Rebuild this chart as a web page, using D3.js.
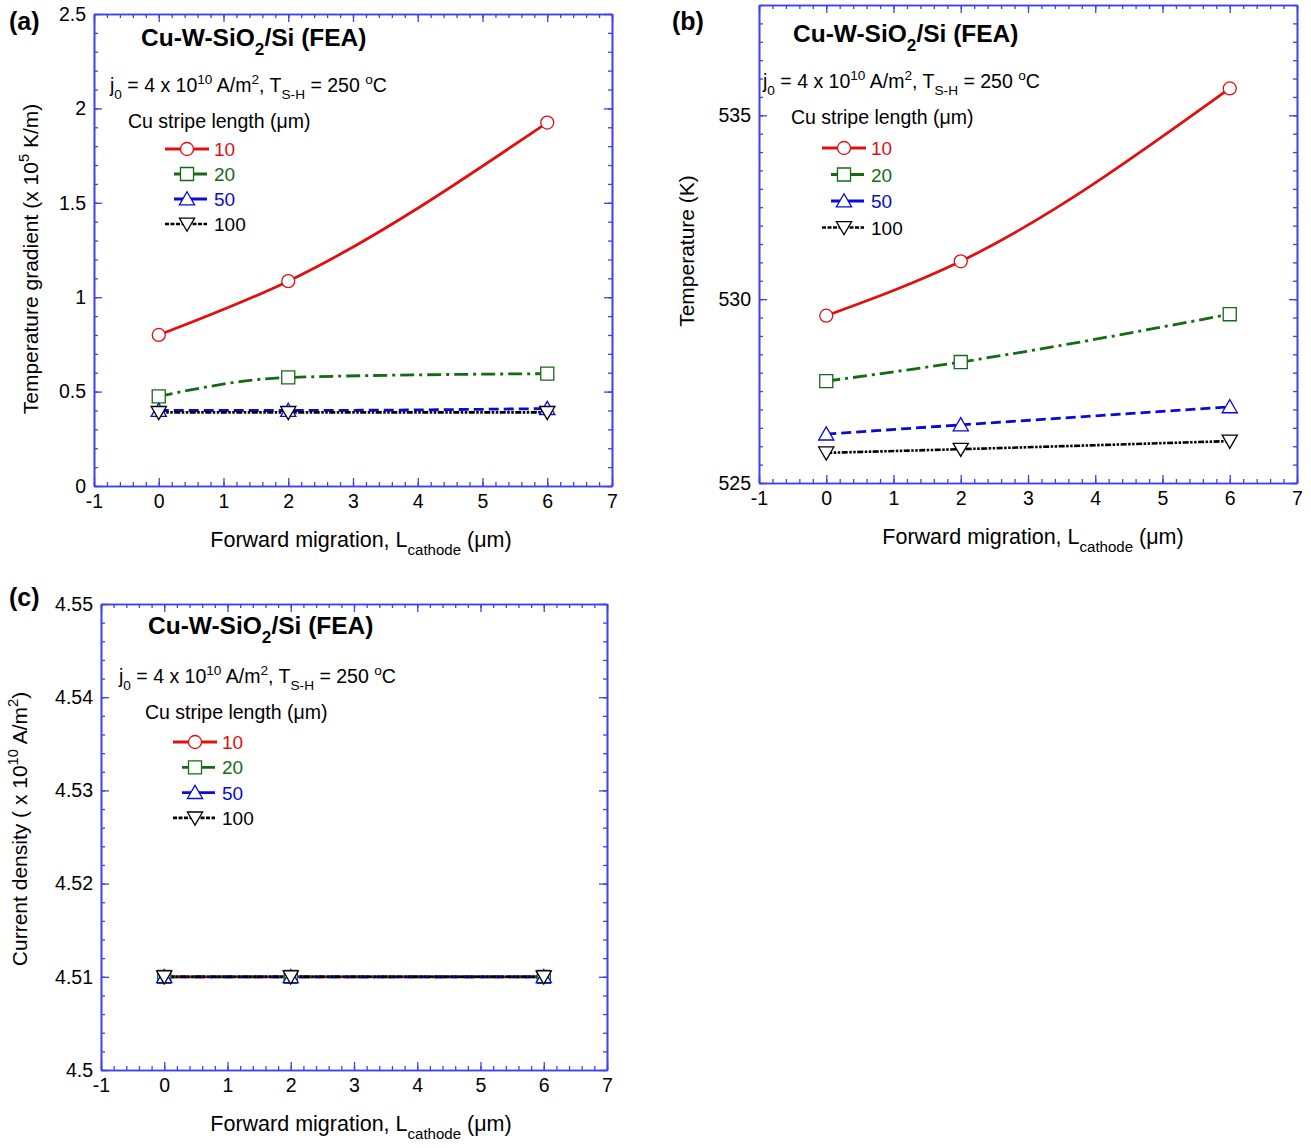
<!DOCTYPE html>
<html>
<head>
<meta charset="utf-8">
<script src="https://cdn.jsdelivr.net/npm/d3@7"></script>
<style>
body { margin: 0; background: #fff; }
text { font-family: "Liberation Sans", Arial, sans-serif; }
</style>
</head>
<body>
<div class="canvas"></div>
<script>
// data
const migration = [0, 2, 6];
const stripeLengths = ['10', '20', '50', '100'];

// (a) temperature gradient, x 10^5 K/m
const gradientVals = [
  [0.80, 1.085, 1.925],
  [0.475, 0.575, 0.595],
  [0.40, 0.40, 0.41],
  [0.39, 0.39, 0.39]
];
// (b) temperature, K
const temperatureVals = [
  [529.55, 531.03, 535.73],
  [527.77, 528.29, 529.59],
  [526.33, 526.58, 527.07],
  [525.82, 525.92, 526.14]
];
// (c) current density, x 10^10 A/m^2
const densityVals = [
  [4.51, 4.51, 4.51],
  [4.51, 4.51, 4.51],
  [4.51, 4.51, 4.51],
  [4.51, 4.51, 4.51]
];

const xTicks = [-1, 0, 1, 2, 3, 4, 5, 6, 7];
const gradientTicks = [0, 0.5, 1, 1.5, 2, 2.5];
const temperatureTicks = [525, 530, 535];
const densityTicks = [4.5, 4.51, 4.52, 4.53, 4.54, 4.55];

const styles = [
  {color: '#e01010', dash: null, width: 2.8, symbol: 'circle'},
  {color: '#156a15', dash: '14,5,3,5', width: 2.8, symbol: 'square'},
  {color: '#0a0ad8', dash: '10,5', width: 2.8, symbol: 'up'},
  {color: '#000000', dash: '6,1.5,2.5,1.5,2.5,1.5', width: 2.6, symbol: 'down'}
];
const axisColor = '#4040ec';

// plain hyphen for negatives, like the original
const fmt = d => String(+d.toFixed(4));

const svg = d3.select('.canvas')
  .append('svg')
  .attr('width', 1311)
  .attr('height', 1148);

// text with sub / superscripts: parts = [[text, 'sub'|'sup'|null], ...]
const richText = (sel, parts, size) => {
  let shift = 0;
  parts.forEach(([t, kind]) => {
    const target = kind === 'sub' ? size * 0.38 : kind === 'sup' ? -size * 0.42 : 0;
    sel.append('tspan')
      .attr('dy', target - shift)
      .attr('font-size', kind ? size * 0.7 : size)
      .text(t);
    shift = target;
  });
};

const marker = (g, type, cx, cy, color) => {
  if (type === 'circle') {
    g.append('circle').attr('cx', cx).attr('cy', cy).attr('r', 6.5)
      .attr('fill', '#fff').attr('stroke', color).attr('stroke-width', 1.3);
  } else {
    const sym = type === 'square' ? d3.symbolSquare : d3.symbolTriangle;
    const size = type === 'square' ? 170 : 100;
    const rot = type === 'down' ? 180 : 0;
    g.append('path')
      .attr('d', d3.symbol().type(sym).size(size)())
      .attr('transform', `translate(${cx},${cy + (type === 'up' ? 1.5 : type === 'down' ? -1.5 : 0)}) rotate(${rot})`)
      .attr('fill', '#fff').attr('stroke', color).attr('stroke-width', 1.3);
  }
};

const drawPanel = (p) => {
  const graph = svg.append('g');

  const x = d3.scaleLinear().domain([-1, 7]).range([p.left, p.right]);
  const y = d3.scaleLinear().domain(p.yDomain).range([p.bottom, p.top]);

  const xMinor = d3.ticks(-1, 7, 40);
  const yMinor = d3.ticks(p.yDomain[0], p.yDomain[1], p.yMinorCount);

  const styleAxis = (sel) => {
    sel.selectAll('path.domain').attr('stroke', axisColor).attr('stroke-width', 1.6);
    sel.selectAll('.tick line').attr('stroke', axisColor).attr('stroke-width', 1.3);
    sel.selectAll('.tick text')
      .attr('fill', '#000')
      .attr('font-size', 19.5)
      .attr('font-family', '"Liberation Sans", Arial, sans-serif');
  };

  // minor ticks, all four sides, pointing inward
  graph.append('g').attr('transform', `translate(0,${p.bottom})`)
    .call(d3.axisBottom(x).tickValues(xMinor).tickSize(-4).tickSizeOuter(0).tickFormat('')).call(styleAxis);
  graph.append('g').attr('transform', `translate(0,${p.top})`)
    .call(d3.axisTop(x).tickValues(xMinor).tickSize(-4).tickSizeOuter(0).tickFormat('')).call(styleAxis);
  graph.append('g').attr('transform', `translate(${p.left},0)`)
    .call(d3.axisLeft(y).tickValues(yMinor).tickSize(-4).tickSizeOuter(0).tickFormat('')).call(styleAxis);
  graph.append('g').attr('transform', `translate(${p.right},0)`)
    .call(d3.axisRight(y).tickValues(yMinor).tickSize(-4).tickSizeOuter(0).tickFormat('')).call(styleAxis);

  // major ticks
  graph.append('g').attr('transform', `translate(0,${p.bottom})`)
    .call(d3.axisBottom(x).tickValues(xTicks).tickSize(-8).tickSizeOuter(0).tickPadding(8).tickFormat(fmt))
    .call(styleAxis);
  graph.append('g').attr('transform', `translate(0,${p.top})`)
    .call(d3.axisTop(x).tickValues(xTicks).tickSize(-8).tickSizeOuter(0).tickFormat('')).call(styleAxis);
  graph.append('g').attr('transform', `translate(${p.left},0)`)
    .call(d3.axisLeft(y).tickValues(p.yTicks).tickSize(-8).tickSizeOuter(0).tickPadding(8).tickFormat(fmt))
    .call(styleAxis);
  graph.append('g').attr('transform', `translate(${p.right},0)`)
    .call(d3.axisRight(y).tickValues(p.yTicks).tickSize(-8).tickSizeOuter(0).tickFormat('')).call(styleAxis);

  // lines
  const line = d3.line()
    .x((d, i) => x(migration[i]))
    .y(d => y(d))
    .curve(d3.curveMonotoneX);

  p.values.forEach((vals, k) => {
    const s = styles[k];
    graph.append('path')
      .attr('d', line(vals))
      .attr('fill', 'none')
      .attr('stroke', s.color)
      .attr('stroke-width', s.width)
      .attr('stroke-dasharray', s.dash);
  });
  p.values.forEach((vals, k) => {
    vals.forEach((v, i) => marker(graph, styles[k].symbol, x(migration[i]), y(v), styles[k].color));
  });

  // panel letter
  graph.append('text')
    .attr('x', p.letterX).attr('y', p.letterY)
    .attr('font-size', 25).attr('font-weight', 'bold')
    .text(p.letter);

  // headings
  richText(graph.append('text').attr('x', p.titleX).attr('y', p.titleY).attr('font-weight', 'bold'),
    [['Cu-W-SiO', null], ['2', 'sub'], ['/Si (FEA)', null]], 24.5);
  richText(graph.append('text').attr('x', p.condX).attr('y', p.condY),
    [['j', null], ['0', 'sub'], [' = 4 x 10', null], ['10', 'sup'], [' A/m', null], ['2', 'sup'],
     [', T', null], ['S-H', 'sub'], [' = 250 ', null], ['o', 'sup'], ['C', null]], 19.5);
  graph.append('text')
    .attr('x', p.condX + p.stripeDx).attr('y', p.condY + 36)
    .attr('font-size', 19.5)
    .text('Cu stripe length (\u03bcm)');

  // legend: short solid stubs either side of the marker, dotted for 100
  stripeLengths.forEach((name, k) => {
    const s = styles[k];
    const ly = p.legendY + k * p.legendStep;
    const x1 = p.legendX + ((k === 1 || k === 2) ? 9 : 0);
    const x2 = p.legendX + (k === 0 ? 44 : 42);
    graph.append('line')
      .attr('x1', x1).attr('x2', x2)
      .attr('y1', ly).attr('y2', ly)
      .attr('stroke', s.color).attr('stroke-width', s.width)
      .attr('stroke-dasharray', k === 3 ? '4,1.5' : null);
    marker(graph, s.symbol, p.legendX + 22, ly, s.color);
    graph.append('text')
      .attr('x', p.legendX + 49).attr('y', ly + 7)
      .attr('font-size', 19)
      .attr('fill', k === 3 ? '#000' : s.color)
      .text(name);
  });

  // axis titles
  richText(graph.append('text')
    .attr('x', p.xLabelX).attr('y', p.bottom + 61)
    .attr('text-anchor', 'middle'),
    [['Forward migration, L', null], ['cathode', 'sub'], [' (\u03bcm)', null]], 21.5);
  richText(graph.append('text')
    .attr('transform', `translate(${p.yLabelX},${p.yLabelY}) rotate(-90)`)
    .attr('text-anchor', 'middle'),
    p.yLabel, 21);
};

drawPanel({
  letter: '(a)', letterX: 9, letterY: 30,
  left: 94, right: 612, top: 14, bottom: 486,
  yDomain: [0, 2.5], yTicks: gradientTicks, yMinorCount: 25,
  values: gradientVals,
  titleX: 141, titleY: 46, condX: 110, condY: 92, stripeDx: 18,
  legendX: 165, legendY: 149, legendStep: 25,
  xLabelX: 361, yLabelX: 38, yLabelY: 259,
  yLabel: [['Temperature gradient (x 10', null], ['5', 'sup'], [' K/m)', null]]
});

drawPanel({
  letter: '(b)', letterX: 672, letterY: 30,
  left: 759, right: 1297, top: 5, bottom: 483,
  yDomain: [525, 538], yTicks: temperatureTicks, yMinorCount: 26,
  values: temperatureVals,
  titleX: 793, titleY: 42, condX: 763, condY: 88, stripeDx: 28,
  legendX: 822, legendY: 148, legendStep: 26.5,
  xLabelX: 1033, yLabelX: 694, yLabelY: 251,
  yLabel: [['Temperature (K)', null]]
});

drawPanel({
  letter: '(c)', letterX: 9, letterY: 606,
  left: 101, right: 607, top: 604, bottom: 1070,
  yDomain: [4.5, 4.55], yTicks: densityTicks, yMinorCount: 25,
  values: densityVals,
  titleX: 148, titleY: 634, condX: 119, condY: 683, stripeDx: 26,
  legendX: 173, legendY: 742, legendStep: 25.3,
  xLabelX: 361, yLabelX: 27, yLabelY: 829,
  yLabel: [['Current density ( x 10', null], ['10', 'sup'], [' A/m', null], ['2', 'sup'], [')', null]]
});
</script>
</body>
</html>
